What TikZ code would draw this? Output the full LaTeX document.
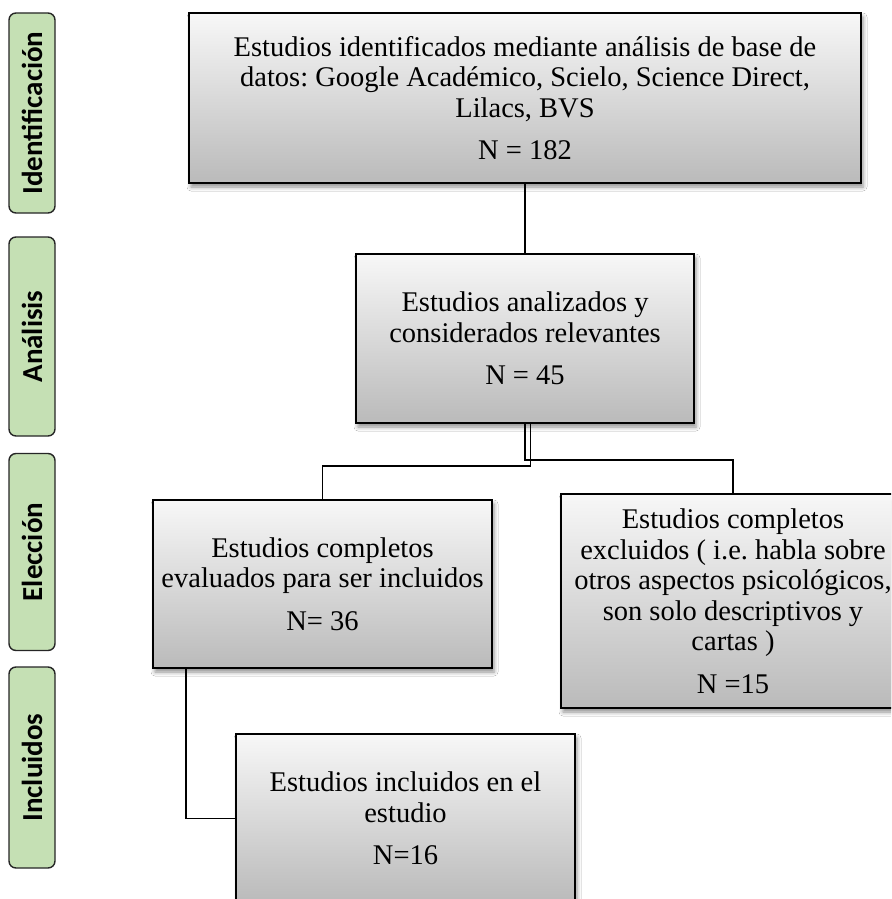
\documentclass[tikz,border=0pt]{standalone}
\usepackage{fontspec}
\setmainfont{Liberation Serif}
\newfontfamily\labfont{Carlito}
\usetikzlibrary{shadows,shadows.blur,calc}
\definecolor{labgreen}{HTML}{C5E0B4}
\frenchspacing
\tikzset{
  flowbox/.style={draw=black, line width=1.8pt, inner sep=0pt, align=center,
    top color=black!3, bottom color=black!27,
    blur shadow={shadow xshift=2pt, shadow yshift=-4pt, shadow blur radius=4pt, shadow opacity=45},
    font=\fontsize{28.5}{30.5}\selectfont},
  phase/.style={draw=black!85, line width=1.4pt, fill=labgreen, rounded corners=7pt,
    rotate=90, minimum height=46pt, inner sep=0pt,
    font=\labfont\bfseries\fontsize{29}{30}\selectfont},
  link/.style={draw=black, line width=1.8pt}
}
\begin{document}
\begin{tikzpicture}[x=1pt,y=-1pt]
\useasboundingbox (0,0) rectangle (891,899);
\fill[white] (0,0) rectangle (891,899);
\clip (0,0) rectangle (891,899);
% phase labels
\node[phase, minimum width=200pt] (p1) at (32,113) {Identificación};
\node[phase, minimum width=199pt] (p2) at (32,336.5) {Análisis};
\node[phase, minimum width=197pt] (p3) at (32,552) {Elección};
\node[phase, minimum width=201pt] (p4) at (32,767.5) {Incluidos};
% boxes
\node[flowbox, minimum width=672pt, minimum height=170pt] (top) at (525,98)
  {Estudios identificados mediante análisis de base de\\
   datos: Google Académico, Scielo, Science Direct,\\
   Lilacs, BVS\\[12pt] N = 182};
\node[flowbox, minimum width=338pt, minimum height=169pt] (mid) at (525,338.5)
  {Estudios analizados y\\ considerados relevantes\\[12pt] N = 45};
\node[flowbox, minimum width=339pt, minimum height=168pt] (el) at (322.5,584)
  {Estudios completos\\ evaluados para ser incluidos\\[12pt] N= 36};
\node[flowbox, minimum width=344pt, minimum height=214pt] (ex) at (733,601)
  {Estudios completos\\ excluidos ( i.e. habla sobre\\ otros aspectos psicológicos,\\ son solo descriptivos y\\ cartas )\\[12pt] N =15};
\node[flowbox, minimum width=339pt, minimum height=169pt] (inc) at (405.5,818.5)
  {Estudios incluidos en el\\ estudio\\[12pt] N=16};
% connectors
\draw[link] (top.south) -- (mid.north);
\draw[link] ([xshift=5.5pt]mid.south) -- ++(0,42) -| (el.north);
\draw[link] (mid.south) -- ++(0,36) -| (ex.north);
\draw[link] ([xshift=34pt]el.south west) |- (inc.west);
\end{tikzpicture}
\end{document}
